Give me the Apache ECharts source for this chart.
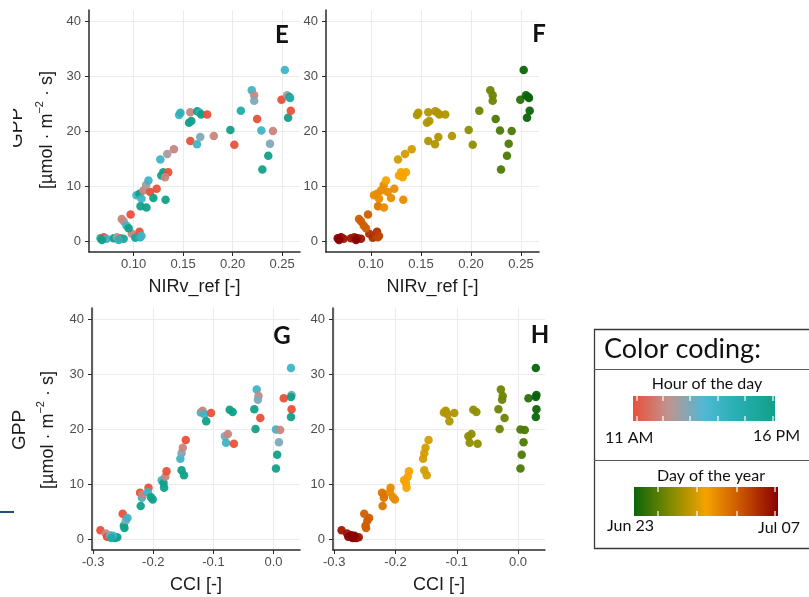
<!DOCTYPE html>
<html><head><meta charset="utf-8">
<script src="https://cdn.jsdelivr.net/npm/echarts@6/dist/echarts.min.js"></script>
<style>html,body{margin:0;padding:0;background:#fff}#c{width:809px;height:597px}</style>
</head><body><div id="c"></div>
<script>
// ---- Panels E/F: GPP vs NIRv_ref ----
const nirv = [0.0667,0.070,0.0727,0.068,0.080,0.0833,0.0867,0.090,0.085,
  0.0983,0.1017,0.1067,0.106,0.108,0.097,0.090,0.0927,0.095,0.088,
  0.103,0.106,0.108,0.107,0.113,0.110,0.1127,0.115,0.1167,0.120,0.1233,0.1323,
  0.128,0.130,0.135,0.1317,0.127,0.134,0.1407,
  0.146,0.1473,0.1573,0.156,0.1583,0.1573,0.1643,0.1667,0.1683,0.1743,0.164,0.1673,0.181,
  0.1977,0.2017,0.2083,0.2193,0.2217,0.2217,0.2247,0.229,0.230,0.236,0.2377,0.2407,
  0.2493,0.2527,0.255,0.2573,0.256,0.2587,0.258];
const gppN = [0.5,0.7,0.4,0.2,0.5,0.7,0.5,0.4,0.2,
  1.3,0.6,0.7,1.7,0.9,4.8,3.6,2.8,2.3,4.0,
  8.3,8.6,7.7,6.3,6.1,9.2,10.2,11.0,8.9,7.8,9.5,7.5,
  11.9,12.5,12.5,11.6,14.8,15.8,16.7,
  22.9,23.3,23.4,21.5,21.8,18.2,23.6,23.3,23.0,23.0,17.6,18.9,19.1,
  20.2,17.5,23.7,27.4,26.5,25.5,22.2,20.1,13.0,15.5,17.7,20.0,
  25.7,31.1,26.5,26.2,22.4,23.7,26.0];
const hourN = [15.5,11,14,16,16,12.5,11.5,15.5,14.5,
  12,15.5,14.5,11,14,11,12.5,14,16,12,
  14,16,14,16,16,12,12.5,14,11,16,11,16,
  16,16,11,12,14,12.5,12,
  14,14.5,12,16,16,11,16,14.5,16,11,14,13,12,
  16,11,15,14,12,13,11,14,16,16,13,12,
  11,14,12.5,16,16,11,15];
const doyN = [188,188,187,188,187,187,188,187,188,
  186,186,185,186,185,184,184,184,184,184,
  182,182,182,183,182,182,182,181,182,182,182,182,
  181,181,181,181,180,180,180,
  179,179,179,179,179,179,179,179,179,179,179,179,179,
  178,178,177,177,177,177,176,176,176,176,176,176,
  175,174,174,174,174,174,174];

// ---- Panels G/H: GPP vs CCI ----
const cci = [-0.288,-0.279,-0.277,-0.272,-0.268,-0.264,-0.260,-0.267,-0.270,
  -0.251,-0.249,-0.246,-0.243,-0.248,
  -0.222,-0.221,-0.219,-0.218,-0.208,-0.209,-0.201,-0.204,
  -0.186,-0.183,-0.182,-0.180,-0.178,
  -0.155,-0.153,-0.151,-0.146,-0.153,-0.149,
  -0.121,-0.118,-0.115,-0.112,-0.104,
  -0.081,-0.076,-0.079,-0.066,-0.073,-0.068,
  -0.032,-0.028,-0.025,-0.026,-0.022,-0.030,
  0.004,0.011,0.006,0.004,0.009,0.017,
  0.029,0.030,0.029,0.030,0.029];
const gppC = [1.6,1.0,0.4,0.7,0.3,0.2,0.3,0.6,0.2,
  4.6,2.4,3.3,3.8,2.0,
  8.4,6.0,7.5,8.1,9.3,8.5,7.2,7.6,
  10.7,10.2,9.3,11.3,12.3,
  14.6,15.6,16.6,18.0,12.5,11.6,
  23.0,23.3,22.7,21.4,22.9,
  18.7,19.1,17.5,17.3,23.5,23.1,
  23.6,27.2,26.0,25.3,22.0,20.0,
  19.9,19.8,15.3,12.8,17.6,25.6,
  31.1,26.2,25.8,23.6,22.2];
const hourC = [11,12,11,13,16,16,16,14,15,
  11,16,13,14,16,
  11,16,14,12,11,14,16,16,
  14,16,16,12,11,
  14,13,12,11,16,16,
  14,12,14,16,11,
  13,12,14,11,16,16,
  16,14,12,13,11,16,
  14,12,16,16,13,11,
  14,13,16,11,16];
const doyC = [187,187,188,188,188,188,187,188,188,
  184,184,184,184,184,
  183,183,183,183,182,182,182,182,
  181,181,181,181,181,
  180,180,180,180,180,180,
  179,179,179,179,179,
  178,178,178,178,178,178,
  177,177,177,177,177,177,
  176,176,176,176,176,175,
  174,174,174,174,174];

// ---- axis ticks & colour scales ----
const nirvTicks = [0.10,0.15,0.20,0.25];
const cciTicks = [-0.3,-0.2,-0.1,0.0];
const gppTicks = [0,10,20,30,40];
const hourColors = ['#e8503a','#c0948f','#50b8d4','#26aeb0','#11a088'];
const dayColors = ['#0b640b','#7f8a00','#f5a300','#c85200','#8b0000'];

const FONT = '"Liberation Sans", Arial, sans-serif';
const chart = echarts.init(document.getElementById('c'), null, {renderer:'canvas'});

const grids = [
  {left:89, top:10, width:211, height:242},
  {left:326, top:10, width:213, height:242},
  {left:92, top:308, width:208, height:242},
  {left:333, top:308, width:212, height:242}
];

function xAx(i, min, max, ticks, dec, name){
  return {gridIndex:i, type:'value', min:min, max:max, name:name,
    nameLocation:'middle', nameGap:26,
    nameTextStyle:{fontSize:18, color:'#1a1a1a', fontFamily:FONT},
    axisLine:{show:true, onZero:false, lineStyle:{color:'#2a2a2a', width:1.5}},
    axisTick:{show:true, length:4, customValues:ticks, lineStyle:{color:'#2a2a2a', width:1}},
    axisLabel:{customValues:ticks, formatter:v=>Number(v).toFixed(dec), fontSize:13, color:'#4d4d4d', margin:6, fontFamily:FONT},
    splitLine:{show:true, lineStyle:{color:'#ebebeb', width:1}}
  };
}
function yAx(i){
  return {gridIndex:i, type:'value', min:-2, max:42,
    axisLine:{show:true, onZero:false, lineStyle:{color:'#2a2a2a', width:1.5}},
    axisTick:{show:true, length:4, customValues:gppTicks, lineStyle:{color:'#2a2a2a', width:1}},
    axisLabel:{customValues:gppTicks, fontSize:13, color:'#4d4d4d', margin:8, fontFamily:FONT},
    splitLine:{show:true, lineStyle:{color:'#ebebeb', width:1}}
  };
}

const dataN = nirv.map((x,i)=>[x, gppN[i], hourN[i], doyN[i]]);
const dataC = cci.map((x,i)=>[x, gppC[i], hourC[i], doyC[i]]);

function sc(i, data){
  return {type:'scatter', xAxisIndex:i, yAxisIndex:i, data:data, symbolSize:8.5,
    itemStyle:{opacity:0.95}, silent:true};
}

function vtext(x, y, text, size){
  return {type:'text', x:x, y:y, rotation:Math.PI/2, z:10,
    style:{text:text, font: size+'px '+FONT, fill:'#1a1a1a', align:'center', verticalAlign:'middle'}};
}
function unitText(x, y){
  return {type:'text', x:x, y:y, rotation:Math.PI/2, z:10,
    style:{text:'{b|[µmol · m}{s|−2}{b| · s]}', align:'center', verticalAlign:'middle', fill:'#1a1a1a',
      rich:{b:{fontSize:18, fontFamily:FONT, lineHeight:22, verticalAlign:'bottom', fill:'#1a1a1a'},
            s:{fontSize:11, fontFamily:FONT, lineHeight:12, verticalAlign:'top', fill:'#1a1a1a'}}}};
}
function letter(x, y, t){
  return {type:'text', x:x, y:y, z:10,
    style:{text:t, font:'bold 24px Lato, "Open Sans", sans-serif', fill:'#111', align:'center', verticalAlign:'middle'}};
}
function lg(stops){
  return new echarts.graphic.LinearGradient(0,0,1,0, stops.map((c,i)=>({offset:i/(stops.length-1), color:c})));
}
const LF = 'Lato, "Open Sans", sans-serif';
function ltext(x, y, t, size, align){
  return {type:'text', x:x, y:y, z:10,
    style:{text:t, font: size+'px '+LF, fill:'#111', align:align||'center', verticalAlign:'middle'}};
}
function tickMarks(xs, y0, y1, h){
  const out = [];
  xs.forEach(x=>{
    out.push({type:'line', z:12, shape:{x1:x,y1:y0,x2:x,y2:y0+h}, style:{stroke:'#fff', lineWidth:1.2}});
    out.push({type:'line', z:12, shape:{x1:x,y1:y1-h,x2:x,y2:y1}, style:{stroke:'#fff', lineWidth:1.2}});
  });
  return out;
}

const graphics = [
  letter(282, 35, 'E'), letter(539, 34, 'F'), letter(282, 336, 'G'), letter(540, 335, 'H'),
  vtext(17, 128, 'GPP', 19), unitText(45, 130),
  {type:'rect', z:11, shape:{x:0, y:95, width:13, height:60}, style:{fill:'#fff'}},
  vtext(20, 430, 'GPP', 19), unitText(46, 430),
  {type:'line', z:10, shape:{x1:0,y1:512,x2:14,y2:512}, style:{stroke:'#1f4e79', lineWidth:2}},
  // legend box
  {type:'rect', z:9, shape:{x:594.5, y:329.5, width:240, height:219}, style:{fill:'#fff', stroke:'#3a3a3a', lineWidth:1.3}},
  {type:'line', z:10, shape:{x1:594,y1:369.5,x2:809,y2:369.5}, style:{stroke:'#5a5a5a', lineWidth:1}},
  {type:'line', z:10, shape:{x1:594,y1:460.5,x2:809,y2:460.5}, style:{stroke:'#5a5a5a', lineWidth:1}},
  ltext(604, 349, 'Color coding:', 27, 'left'),
  ltext(707, 384, 'Hour of the day', 16),
  {type:'rect', z:10, shape:{x:633, y:396, width:142, height:25}, style:{fill:lg(hourColors)}},
  ltext(605, 438, '11 AM', 16, 'left'),
  ltext(800, 436, '16 PM', 16, 'right'),
  ltext(711, 476, 'Day of the year', 16),
  {type:'rect', z:10, shape:{x:634, y:487, width:144, height:29}, style:{fill:lg(dayColors)}},
  ltext(607, 526, 'Jun 23', 16, 'left'),
  ltext(800, 528, 'Jul 07', 16, 'right')
].concat(tickMarks([637,663,690,718,745,773], 396, 421, 5))
 .concat(tickMarks([658,697,737,775], 487, 516, 5));

chart.setOption({
  backgroundColor:'#fff',
  animation:false,
  grid: grids,
  xAxis:[
    xAx(0, 0.055, 0.268, nirvTicks, 2, 'NIRv_ref [-]'),
    xAx(1, 0.055, 0.268, nirvTicks, 2, 'NIRv_ref [-]'),
    xAx(2, -0.302, 0.044, cciTicks, 1, 'CCI [-]'),
    xAx(3, -0.302, 0.044, cciTicks, 1, 'CCI [-]')
  ],
  yAxis:[yAx(0), yAx(1), yAx(2), yAx(3)],
  visualMap:[
    {type:'continuous', show:false, seriesIndex:[0,2], dimension:2, min:11, max:16, inRange:{color:hourColors}},
    {type:'continuous', show:false, seriesIndex:[1,3], dimension:3, min:174, max:188, inRange:{color:dayColors}}
  ],
  series:[sc(0, dataN), sc(1, dataN), sc(2, dataC), sc(3, dataC)],
  graphic: graphics
});
</script></body></html>
